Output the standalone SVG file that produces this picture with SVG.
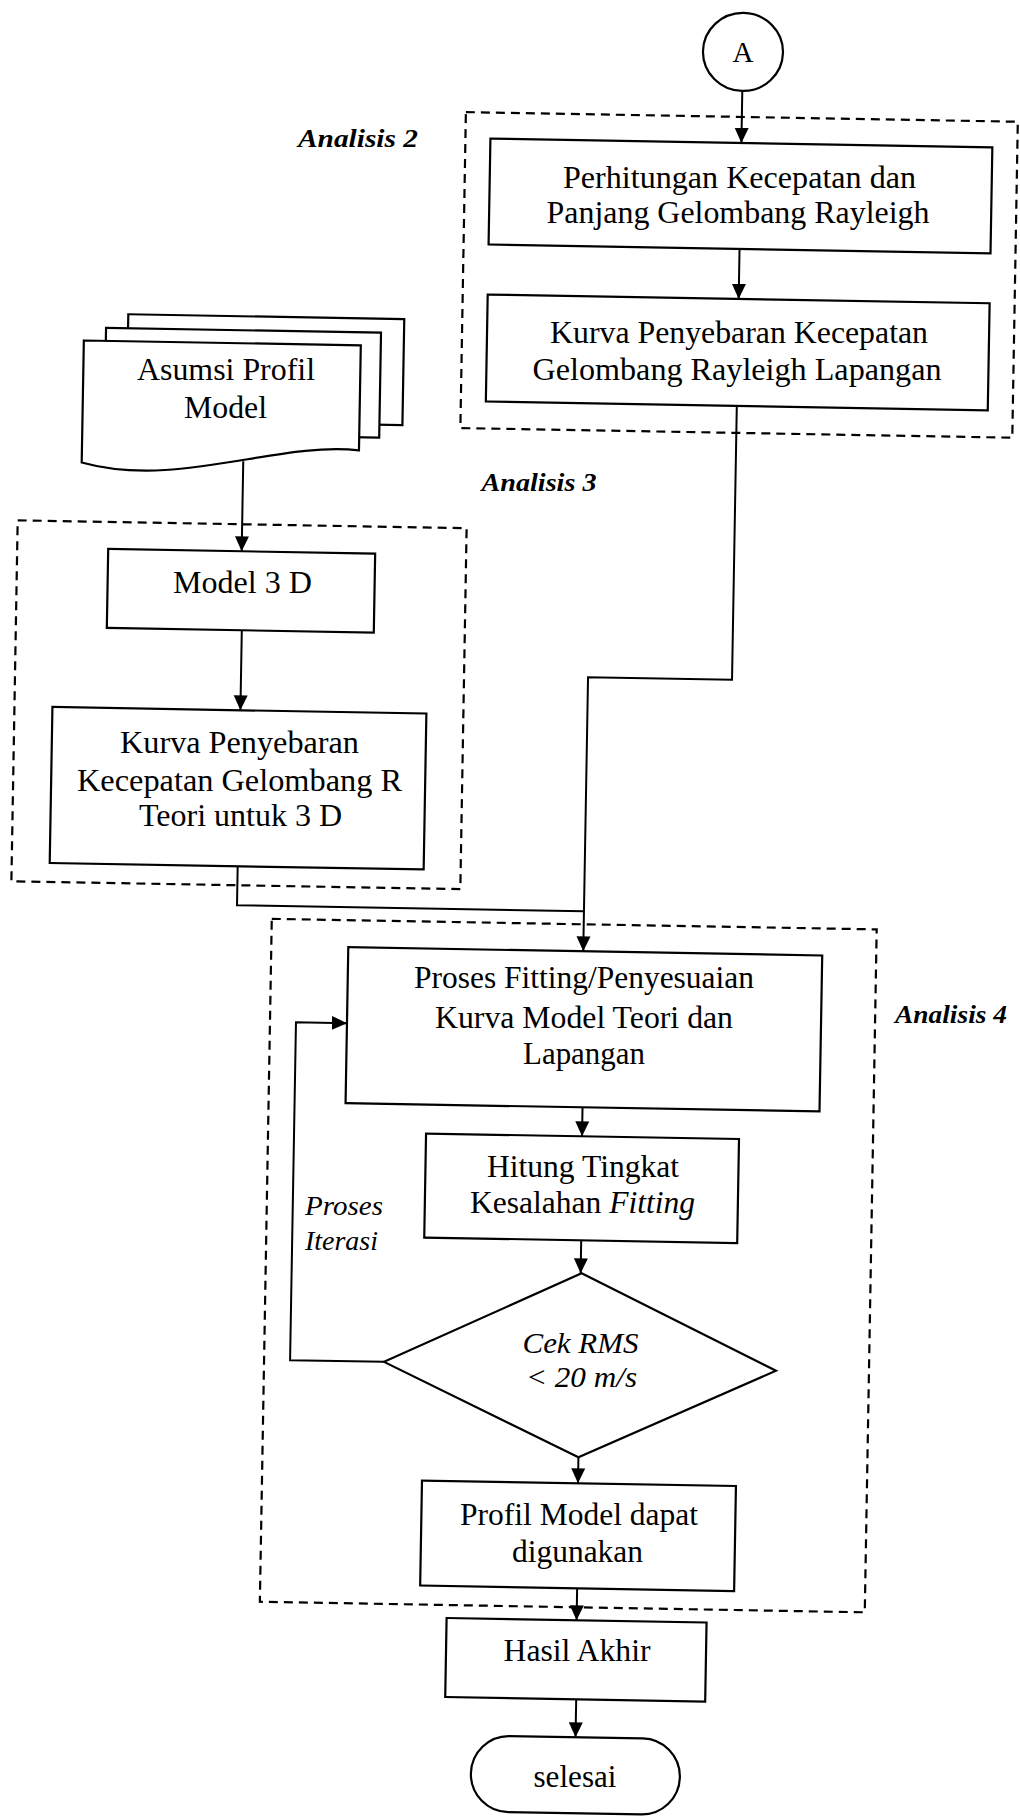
<svg xmlns="http://www.w3.org/2000/svg" width="1020" height="1816" viewBox="0 0 1020 1816">
<defs>
<style>
.bx{fill:#fff;stroke:#000;stroke-width:2.2}
.dsh{fill:none;stroke:#000;stroke-width:2.2;stroke-dasharray:9 6}
.ln{fill:none;stroke:#000;stroke-width:2}
.arr{marker-end:url(#ah)}
text{font-family:"Liberation Serif","Times New Roman",serif;fill:#000;text-anchor:middle}
.t{font-size:31px}
.big{font-size:32px}
.lbl{font-size:26px;font-weight:bold;font-style:italic}
.it{font-style:italic}
</style>
<marker id="ah" markerUnits="userSpaceOnUse" markerWidth="16" markerHeight="16" viewBox="0 0 16 16" refX="15" refY="8" orient="auto"><path d="M0,1 L15,8 L0,15 z" fill="#000"/></marker>
</defs>
<rect width="1020" height="1816" fill="#fff"/>

<g id="analisis2">
  <rect class="dsh" transform="rotate(1 510 908)" x="452" y="113" width="552" height="316"/>
  <text class="lbl" x="358" y="147" textLength="120" lengthAdjust="spacingAndGlyphs">Analisis 2</text>
</g>
<g id="analisis3">
  <rect class="dsh" transform="rotate(1 510 908)" x="11" y="529" width="449" height="361"/>
  <text class="lbl" x="539" y="491" textLength="115" lengthAdjust="spacingAndGlyphs">Analisis 3</text>
</g>
<g id="analisis4">
  <rect class="dsh" transform="rotate(1 510 908)" x="272" y="923" width="605" height="683"/>
  <text class="lbl" x="951" y="1023" textLength="112" lengthAdjust="spacingAndGlyphs">Analisis 4</text>
</g>

<g id="connectors" transform="rotate(1 510 908)">
  <path class="ln arr" d="M728,87 V139"/>
  <path class="ln arr" d="M728,245 V295"/>
  <path class="ln arr" d="M728,402 V676 H584 V950"/>
  <path class="ln arr" d="M235.5,466 V556"/>
  <path class="ln arr" d="M237,635 V715"/>
  <path class="ln" d="M237,871 V910 H584"/>
  <path class="ln arr" d="M586,1106 V1135"/>
  <path class="ln arr" d="M587,1239 V1272"/>
  <path class="ln arr" d="M392,1364 H298 V1026 H349"/>
  <path class="ln arr" d="M588,1456 V1482"/>
  <path class="ln arr" d="M589,1587 V1619"/>
  <path class="ln arr" d="M590,1698 V1736"/>
</g>

<g id="A">
  <ellipse class="bx" transform="rotate(1 510 908)" cx="728" cy="48" rx="40" ry="39"/>
  <text x="743" y="62" style="font-size:29px">A</text>
</g>
<g id="perhitungan">
  <rect class="bx" transform="rotate(1 510 908)" x="477" y="139" width="502" height="106"/>
  <text class="t" x="739.5" y="188" textLength="353" lengthAdjust="spacingAndGlyphs">Perhitungan Kecepatan dan</text>
  <text class="t" x="738" y="223" textLength="383" lengthAdjust="spacingAndGlyphs">Panjang Gelombang Rayleigh</text>
</g>
<g id="kurva-lapangan">
  <rect class="bx" transform="rotate(1 510 908)" x="477" y="295" width="502" height="107"/>
  <text class="big" x="739" y="343" textLength="378" lengthAdjust="spacingAndGlyphs">Kurva Penyebaran Kecepatan</text>
  <text class="big" x="737" y="380" textLength="409" lengthAdjust="spacingAndGlyphs">Gelombang Rayleigh Lapangan</text>
</g>
<g id="asumsi">
  <g transform="rotate(1 510 908)">
    <rect class="bx" x="118" y="321" width="276" height="106"/>
    <rect class="bx" x="96" y="335" width="275" height="105"/>
    <path class="bx" d="M74,348 H351 V453 C270,445 170,495 74,470 Z"/>
  </g>
  <text class="big" x="226" y="380" textLength="178" lengthAdjust="spacingAndGlyphs">Asumsi Profil</text>
  <text class="big" x="225.5" y="418" textLength="83" lengthAdjust="spacingAndGlyphs">Model</text>
</g>
<g id="model3d">
  <rect class="bx" transform="rotate(1 510 908)" x="102" y="556" width="267" height="79"/>
  <text class="big" x="242.5" y="593" textLength="139" lengthAdjust="spacingAndGlyphs">Model 3 D</text>
</g>
<g id="kurva-teori">
  <rect class="bx" transform="rotate(1 510 908)" x="49" y="715" width="374" height="156"/>
  <text class="t" x="239.5" y="753" textLength="239" lengthAdjust="spacingAndGlyphs">Kurva Penyebaran</text>
  <text class="t" x="239.5" y="791" textLength="325" lengthAdjust="spacingAndGlyphs">Kecepatan Gelombang R</text>
  <text class="t" x="240.5" y="826" textLength="203" lengthAdjust="spacingAndGlyphs">Teori untuk 3 D</text>
</g>
<g id="fitting">
  <rect class="bx" transform="rotate(1 510 908)" x="349" y="950" width="474" height="156"/>
  <text class="t" x="584" y="988" textLength="340" lengthAdjust="spacingAndGlyphs">Proses Fitting/Penyesuaian</text>
  <text class="t" x="584" y="1028" textLength="298" lengthAdjust="spacingAndGlyphs">Kurva Model Teori dan</text>
  <text class="t" x="584" y="1064" textLength="122" lengthAdjust="spacingAndGlyphs">Lapangan</text>
</g>
<g id="hitung">
  <rect class="bx" transform="rotate(1 510 908)" x="430" y="1135" width="313" height="104"/>
  <text class="t" x="583" y="1177" textLength="192" lengthAdjust="spacingAndGlyphs">Hitung Tingkat</text>
  <text class="t" x="582.5" y="1213" textLength="225" lengthAdjust="spacingAndGlyphs">Kesalahan <tspan class="it">Fitting</tspan></text>
</g>
<g id="iterasi-label">
  <text class="it" x="305" y="1215" style="font-size:28px;text-anchor:start" textLength="78" lengthAdjust="spacingAndGlyphs">Proses</text>
  <text class="it" x="305" y="1250" style="font-size:28px;text-anchor:start" textLength="73" lengthAdjust="spacingAndGlyphs">Iterasi</text>
</g>
<g id="cek-rms">
  <polygon class="bx" transform="rotate(1 510 908)" points="588,1272 784,1366 588,1456 392,1364"/>
  <text class="it" x="580.5" y="1353" style="font-size:30px" textLength="116" lengthAdjust="spacingAndGlyphs">Cek RMS</text>
  <text class="it" x="581.5" y="1387" style="font-size:30px" textLength="111" lengthAdjust="spacingAndGlyphs">&lt; 20 m/s</text>
</g>
<g id="profil">
  <rect class="bx" transform="rotate(1 510 908)" x="432" y="1482" width="314" height="105"/>
  <text class="t" x="579" y="1525" textLength="238" lengthAdjust="spacingAndGlyphs">Profil Model dapat</text>
  <text class="t" x="577.5" y="1562" textLength="131" lengthAdjust="spacingAndGlyphs">digunakan</text>
</g>
<g id="hasil">
  <rect class="bx" transform="rotate(1 510 908)" x="459" y="1619" width="260" height="79"/>
  <text class="t" x="577" y="1661" textLength="147" lengthAdjust="spacingAndGlyphs">Hasil Akhir</text>
</g>
<g id="selesai">
  <rect class="bx" transform="rotate(1 510 908)" x="486" y="1736" width="209" height="76" rx="38" ry="38"/>
  <text class="t" x="575" y="1787" textLength="83" lengthAdjust="spacingAndGlyphs">selesai</text>
</g>
</svg>
